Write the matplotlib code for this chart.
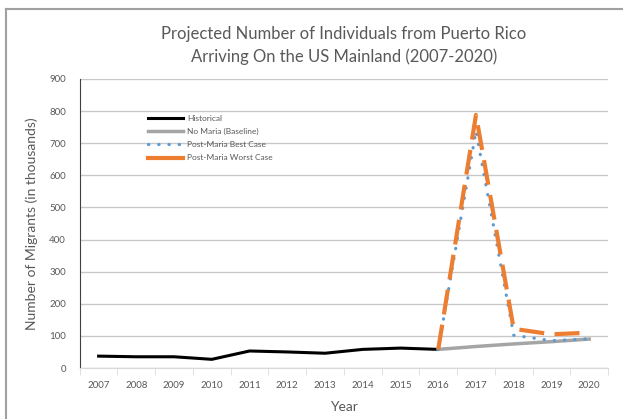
from matplotlib import pyplot as plt
from matplotlib.lines import Line2D
import numpy as np

years = ['2007', '2008', '2009', '2010', '2011', '2012', '2013',
         '2014', '2015', '2016', '2017', '2018', '2019', '2020']

historical = [37, 35, 35, 27, 53, 50, 46, 58, 62, 58]
baseline = [58, 67, 75, 82, 90]
best_case = [58, 738, 102, 85, 91]
worst_case = [58, 788, 122, 105, 110]

plt.rcParams['font.family'] = ['Lato', 'DejaVu Sans']
txt = '#595959'

fig = plt.figure(figsize=(6.23, 4.19), dpi=100)
ax = fig.add_axes([0.128, 0.1217, 0.848, 0.6898])

x = np.arange(len(years))
proj_x = x[9:]

ax.plot(x[:10], historical, color='black', lw=2.2, label='Historical', zorder=3)
ax.plot(proj_x, baseline, color='#a5a5a5', lw=2.5, label='No Maria (Baseline)', zorder=3)
ax.plot(proj_x, best_case, color='#5b9bd5', lw=2.3, linestyle=(0, (0.1, 3.1)),
        dash_capstyle='round', label='Post-Maria Best Case', zorder=4)
ax.plot(proj_x, worst_case, color='#ed7d31', lw=3.0, linestyle=(0, (6, 2.5)),
        label='Post-Maria Worst Case', zorder=5)

ax.set_xlim(-0.5, 13.5)
ax.set_ylim(0, 900)
ax.set_yticks(range(0, 901, 100))
ax.set_xticks(x)
ax.set_xticklabels(years)
ax.set_xticks(np.arange(-0.5, 14, 1), minor=True)
ax.tick_params(axis='x', which='major', length=0, pad=9, labelsize=7, colors=txt)
ax.tick_params(axis='x', which='minor', length=5, color='#d9d9d9')
ax.tick_params(axis='y', length=0, pad=10, labelsize=7, colors=txt)
ax.grid(axis='y', color='#c8c8c8', lw=1)
ax.set_axisbelow(True)

for s in ['top', 'right']:
    ax.spines[s].set_visible(False)
ax.spines['left'].set_color('#404040')
ax.spines['bottom'].set_color('#d9d9d9')

ax.set_ylabel('Number of Migrants (in thousands)', fontsize=10, color=txt, labelpad=8)
ax.set_xlabel('Year', fontsize=10, color=txt, labelpad=8)
ax.set_title('Projected Number of Individuals from Puerto Rico\nArriving On the US Mainland (2007-2020)',
             fontsize=12, color=txt, pad=12, linespacing=1.5)

leg = ax.legend(loc='upper left', bbox_to_anchor=(0.1155, 0.903), frameon=False,
                fontsize=6, handlelength=4.2, labelspacing=0.75, handletextpad=0.5)
for t in leg.get_texts():
    t.set_color(txt)
# worst case key looks like a solid short bar in the original
leg.legend_handles[3].set_linestyle('-')

# chart frame (left and top edges visible)
fig.add_artist(Line2D([6 / 623, 6 / 623], [0, 1 - 9 / 419], color='#a0a0a0', lw=1.5))
fig.add_artist(Line2D([6 / 623, 1], [1 - 9 / 419, 1 - 9 / 419], color='#a0a0a0', lw=1.5))

plt.savefig('out.png', dpi=100)
plt.close('all')
